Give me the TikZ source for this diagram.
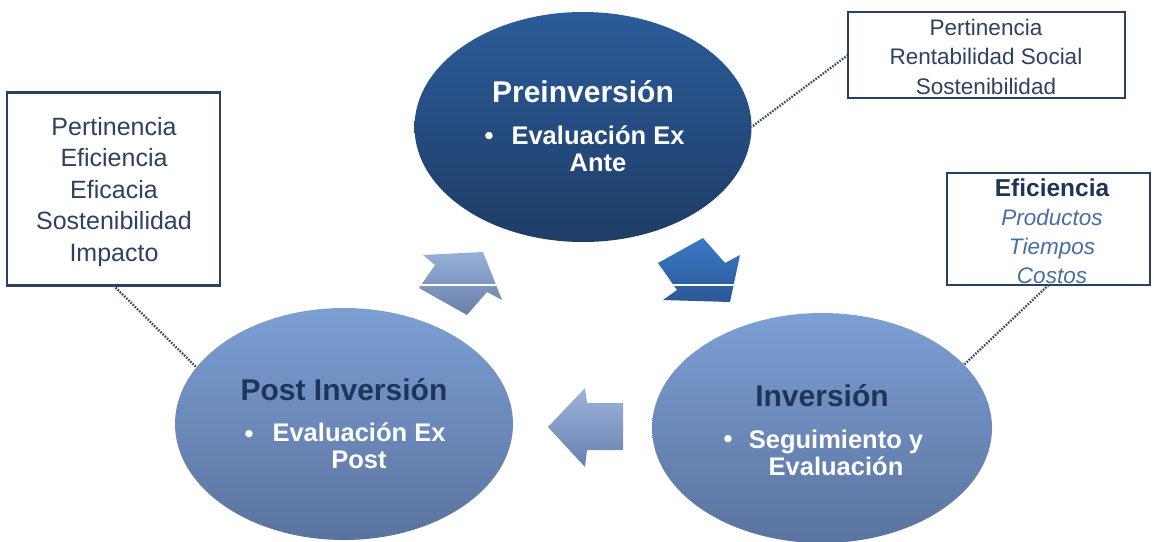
\documentclass[tikz,border=0pt]{standalone}
\usepackage{fontspec}
\setmainfont{Liberation Sans}
\usetikzlibrary{shapes.geometric}
\definecolor{preTop}{HTML}{2B5C99}
\definecolor{preBot}{HTML}{1E3C66}
\definecolor{lgtTop}{HTML}{7C9FD4}
\definecolor{lgtBot}{HTML}{5A739F}
\definecolor{arLTop}{HTML}{95B0DA}
\definecolor{arLBot}{HTML}{6A7FA6}
\definecolor{arDTop}{HTML}{3B79C6}
\definecolor{arDBot}{HTML}{2A5896}
\definecolor{arBTop}{HTML}{9CB4DD}
\definecolor{arBBot}{HTML}{6880AC}
\definecolor{boxLine}{HTML}{2C405F}
\definecolor{boxText}{HTML}{2F4160}
\definecolor{darkTitle}{HTML}{1F3557}
\definecolor{italBlue}{HTML}{4A6DA5}
\definecolor{dotCol}{HTML}{3A4A66}
\begin{document}
\begin{tikzpicture}[x=1pt,y=-1pt,
  phase/.style={ellipse, draw=none, outer sep=0pt, inner sep=0pt},
  ttl/.style={font=\fontsize{30}{34}\selectfont\bfseries, anchor=base, inner sep=0pt},
  btxt/.style={font=\fontsize{25.5}{27}\selectfont\bfseries, text=white, align=center, anchor=base, inner sep=0pt},
  bul/.style={font=\fontsize{25.5}{27}\selectfont\bfseries, text=white, anchor=base, inner sep=0pt},
  frame/.style={draw=boxLine, line width=2.5pt, fill=white, outer sep=0pt, inner sep=0pt},
  boxtxt/.style={text=boxText, align=center, anchor=base, inner sep=0pt},
  dots/.style={draw=dotCol, line width=2.3pt, dash pattern=on 1.6pt off 1.4pt},
  sep/.style={draw=white, line width=1.2pt}
]
\useasboundingbox (0,0) rectangle (1154,541);
\fill[white] (0,0) rectangle (1154,541);

% ellipses
\node[phase, top color=preTop, bottom color=preBot, minimum width=337pt, minimum height=230pt] (pre) at (583,127) {};
\node[phase, top color=lgtTop, bottom color=lgtBot, minimum width=338pt, minimum height=232pt] (post) at (344,424) {};
\node[phase, top color=lgtTop, bottom color=lgtBot, minimum width=340pt, minimum height=230pt] (inv) at (822,428) {};

% texts in ellipses (multi-line nodes: base = last line)
\node[ttl, text=white] (preT) at (583,102) {Preinversión};
\node[bul] (preB) at (489,144) {\textbullet};
\node[btxt] (preX) at (598,171) {Evaluación Ex\\Ante};

\node[ttl, text=darkTitle] (postT) at (344,400) {Post Inversión};
\node[bul] (postB) at (249,442) {\textbullet};
\node[btxt] (postX) at (359,468) {Evaluación Ex\\Post};

\node[ttl, text=darkTitle] (invT) at (822,406) {Inversión};
\node[bul] (invB) at (728,447) {\textbullet};
\node[btxt] (invX) at (836,475) {Seguimiento y\\Evaluación};

% block arrows
\shade[top color=arLTop, bottom color=arLBot] (423,255) -- (483,252) -- (502,300) -- (487,292) -- (467,315) -- (419,288) -- (435,265) -- cycle;
\begin{scope}
  \clip (423,255) -- (483,252) -- (502,300) -- (487,292) -- (467,315) -- (419,288) -- (435,265) -- cycle;
  \draw[sep] (400,285) -- (520,285);
\end{scope}
\shade[top color=arDTop, bottom color=arDBot] (658,263) -- (703,238) -- (725,263) -- (740,255) -- (730,302) -- (663,300) -- (677,290) -- cycle;
\begin{scope}
  \clip (658,263) -- (703,238) -- (725,263) -- (740,255) -- (730,302) -- (663,300) -- (677,290) -- cycle;
  \draw[sep] (640,285) -- (760,285);
\end{scope}
\shade[top color=arBTop, bottom color=arBBot] (548,427) -- (585,388) -- (587,403) -- (623,403) -- (623,450) -- (587,450) -- (585,467) -- cycle;

% boxes
\node[frame, minimum width=213pt, minimum height=193pt] (lbox) at (113.5,189) {};
\node[boxtxt, font=\fontsize{25}{31.5}\selectfont] (ltxt) at (114,261) {Pertinencia\\Eficiencia\\Eficacia\\Sostenibilidad\\Impacto};

\node[frame, minimum width=277pt, minimum height=86pt] (tbox) at (986.5,55) {};
\node[boxtxt, font=\fontsize{22.5}{29.5}\selectfont] (ttxt) at (986,94) {Pertinencia\\Rentabilidad Social\\Sostenibilidad};

\node[frame, minimum width=203pt, minimum height=112pt] (rbox) at (1048.5,229) {};
\node[boxtxt, font=\fontsize{22.5}{29}\selectfont] (rtxt) at (1052,283) {{\fontsize{24.5}{29}\selectfont\bfseries\color{darkTitle}Eficiencia}\\{\itshape\color{italBlue}Productos}\\{\itshape\color{italBlue}Tiempos}\\{\itshape\color{italBlue}Costos}};

% dotted connectors
\draw[dots] (lbox.south) -- (post.159);
\draw[dots] (tbox.west) -- (pre.east);
\draw[dots] (rbox.south) -- (inv.24);
\end{tikzpicture}
\end{document}
